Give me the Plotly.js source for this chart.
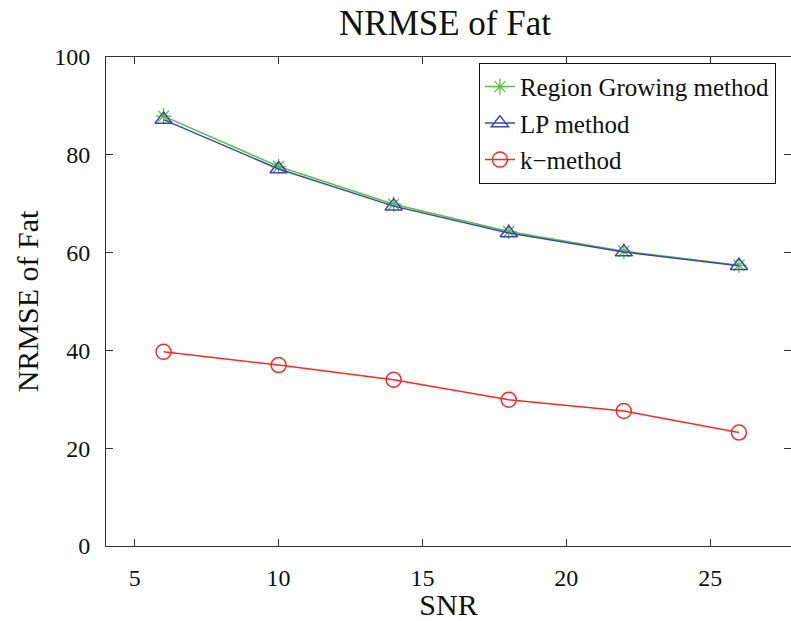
<!DOCTYPE html>
<html>
<head>
<meta charset="utf-8">
<script src="https://cdn.plot.ly/plotly-3.0.1.min.js"></script>
<style>html,body{margin:0;padding:0;background:#fff;overflow:hidden;}</style>
</head>
<body>
<div id="chart" style="width:791px;height:621px;"></div>
<script>
const snr = [6, 10, 14, 18, 22, 26];
const regionGrowing = [87.9, 77.6, 69.9, 64.3, 60.3, 57.4];
const lpMethod = [87.2, 77.1, 69.5, 64.0, 60.1, 57.3];
const kMethod = [39.7, 37.0, 34.0, 29.9, 27.6, 23.2];
const seriesNames = ["Region Growing method", "LP method", "k\u2212method"];
const xTicks = [5, 10, 15, 20, 25];
const yTicks = [0, 20, 40, 60, 80, 100];

const serif = "'Liberation Serif', 'Times New Roman', serif";

const traces = [
  {x: snr, y: regionGrowing, name: seriesNames[0], legendgroup: "a", type: "scatter", mode: "lines+markers",
   line: {color: "#5cbf3f", width: 1.5},
   marker: {symbol: "asterisk-open", size: 13, color: "#5cbf3f", line: {color: "#5cbf3f", width: 1.3}}},
  {x: snr, y: lpMethod, name: seriesNames[1], legendgroup: "b", type: "scatter", mode: "lines+markers",
   line: {color: "#3848b0", width: 1.5},
   marker: {symbol: "triangle-up-open", size: 15, color: "#3848b0", line: {color: "#3848b0", width: 1.5}}},
  {x: snr, y: kMethod, name: seriesNames[2], legendgroup: "c", type: "scatter", mode: "lines+markers",
   line: {color: "#f52a2a", width: 1.5},
   marker: {symbol: "circle-open", size: 15, color: "#f52a2a", line: {color: "#f52a2a", width: 1.5}}}
];

const axisCommon = {
  showline: true, mirror: "ticks", linecolor: "#333", linewidth: 1,
  ticks: "inside", ticklen: 7, tickcolor: "#333", tickwidth: 1,
  showgrid: false, zeroline: false,
  tickfont: {family: serif, size: 24, color: "#111"},
  ticklabelstandoff: 10
};

const layout = {
  width: 791, height: 621,
  paper_bgcolor: "#fff", plot_bgcolor: "#fff",
  margin: {l: 106, r: 0, t: 57, b: 75},
  title: {text: "NRMSE of Fat", font: {family: serif, size: 35, color: "#111"},
          x: 445 / 791, xanchor: "center", xref: "container", y: 1 - 23 / 621, yanchor: "middle", yref: "container"},
  xaxis: Object.assign({}, axisCommon, {
    range: [4, 27.81], tickvals: xTicks, ticktext: xTicks.map(String),
    title: {text: "SNR", font: {family: serif, size: 30, color: "#111"}, standoff: 7}
  }),
  yaxis: Object.assign({}, axisCommon, {
    range: [0, 100], tickvals: yTicks, ticktext: yTicks.map(String),
    title: {text: "NRMSE of Fat", font: {family: serif, size: 30, color: "#111"}, standoff: 6}
  }),
  showlegend: true,
  legend: {
    x: 0.978, xanchor: "right", y: 0.988, yanchor: "top",
    bgcolor: "#fff", bordercolor: "#111", borderwidth: 1,
    font: {family: serif, size: 25, color: "#111"},
    tracegroupgap: 1
  }
};

Plotly.newPlot("chart", traces, layout, {displayModeBar: false, staticPlot: true});
</script>
</body>
</html>
